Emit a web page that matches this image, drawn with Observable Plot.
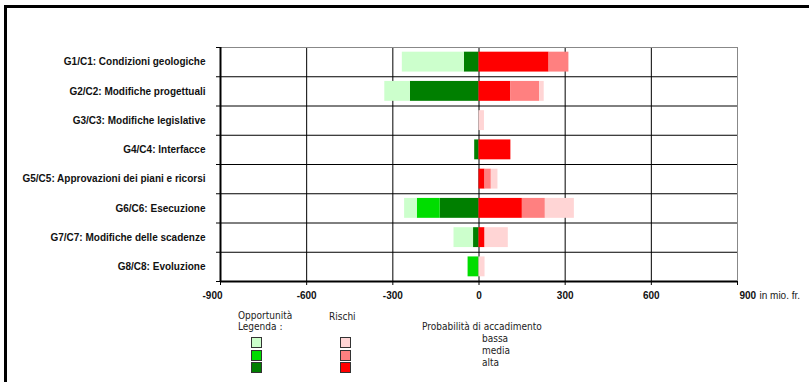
<!DOCTYPE html>
<html>
<head>
<meta charset="utf-8">
<script src="https://cdn.jsdelivr.net/npm/d3@7"></script>
<script src="https://cdn.jsdelivr.net/npm/@observablehq/plot@0.6"></script>
<style>
  html, body { margin: 0; padding: 0; background: #fff; }
  #wrap { position: relative; width: 809px; height: 382px; overflow: hidden; background: #fff; }
  #frame { position: absolute; left: 4px; top: 5px; width: 805px; height: 380px; border-top: 3px solid #000; border-left: 3px solid #000; box-sizing: border-box; }
  #chart { position: absolute; left: 0; top: 0; }
  .lg { position: absolute; font-family: "Liberation Sans Narrow", "DejaVu Sans Condensed", "Liberation Sans", sans-serif; font-size: 10px; line-height: 10px; color: #222; white-space: nowrap; }
  .sq { position: absolute; width: 9px; height: 9px; border: 1.5px solid #333; }
</style>
</head>
<body>
<div id="wrap">
  <div id="frame"></div>
  <div id="chart"></div>
  <div id="legend"></div>
</div>
<script>
// ---- data ----
const categories = [
  "G1/C1: Condizioni geologiche",
  "G2/C2: Modifiche progettuali",
  "G3/C3: Modifiche legislative",
  "G4/C4: Interfacce",
  "G5/C5: Approvazioni dei piani e ricorsi",
  "G6/C6: Esecuzione",
  "G7/C7: Modifiche delle scadenze",
  "G8/C8: Evoluzione"
];
// Opportunità (negative side), in mio. fr.
const oppAlta  = [51, 239, 0, 15, 0, 135, 19, 0];
const oppMedia = [0, 0, 0, 0, 0, 80, 0, 38];
const oppBassa = [216, 89, 0, 0, 0, 44, 68, 0];
// Rischi (positive side), in mio. fr.
const riskAlta  = [244, 110, 0, 111, 21, 151, 21, 0];
const riskMedia = [69, 101, 0, 0, 22, 80, 0, 0];
const riskBassa = [0, 16, 19, 0, 23, 101, 81, 21];

const xTicks = [-900, -600, -300, 0, 300, 600, 900];
const unitLabel = "in mio. fr.";
const levels = ["bassa", "media", "alta"];
const oppColors = {alta: "#007f00", media: "#00dd00", bassa: "#ccffcc"};
const riskColors = {alta: "#ff0000", media: "#ff8080", bassa: "#ffd5d5"};

// ---- build stacked segments (alta nearest zero, then media, then bassa) ----
const segs = [];
categories.forEach((c, i) => {
  let neg = 0, pos = 0;
  [["alta", oppAlta], ["media", oppMedia], ["bassa", oppBassa]].forEach(([lvl, arr]) => {
    const v = arr[i];
    if (v > 0) { segs.push({i, x1: -neg, x2: -(neg + v), fill: oppColors[lvl]}); neg += v; }
  });
  [["alta", riskAlta], ["media", riskMedia], ["bassa", riskBassa]].forEach(([lvl, arr]) => {
    const v = arr[i];
    if (v > 0) { segs.push({i, x1: pos, x2: pos + v, fill: riskColors[lvl]}); pos += v; }
  });
});

const n = categories.length;
const rows = d3.range(n);
const bounds = d3.range(n + 1);
const fmt = d => d < 0 ? "-" + Math.abs(d) : String(d);
const inner = xTicks.filter(d => d > xTicks[0] && d < xTicks[xTicks.length - 1]);

const chart = Plot.plot({
  width: 809,
  height: 310,
  marginLeft: 220,
  marginRight: 72,
  marginTop: 47,
  marginBottom: 29,
  style: {fontFamily: "'Liberation Sans', Arial, sans-serif", fontSize: "10px", color: "#000", background: "transparent"},
  x: {domain: [xTicks[0], xTicks[xTicks.length - 1]], axis: null},
  y: {domain: [0, n], reverse: true, axis: null},
  color: {type: "identity"},
  marks: [
    // grid
    Plot.ruleX(inner, {x: d => d, y1: 0, y2: n, stroke: "#000", strokeWidth: 1}),
    Plot.ruleY(bounds.slice(1, n), {y: d => d, x1: xTicks[0], x2: xTicks[xTicks.length - 1], stroke: "#000", strokeWidth: 1}),
    Plot.ruleY([0], {x1: xTicks[0], x2: xTicks[xTicks.length - 1], stroke: "#888", strokeWidth: 1}),
    Plot.ruleX([xTicks[xTicks.length - 1]], {y1: 0, y2: n, stroke: "#888", strokeWidth: 1}),
    // bars
    Plot.rectX(segs, {x1: "x1", x2: "x2", y1: d => d.i + 0.16, y2: d => d.i + 0.84, fill: "fill"}),
    // axis lines
    Plot.ruleX([xTicks[0]], {y1: 0, y2: n, stroke: "#000", strokeWidth: 2}),
    Plot.ruleY([n], {x1: xTicks[0], x2: xTicks[xTicks.length - 1], stroke: "#000", strokeWidth: 2}),
    // tick marks
    Plot.axisX({ticks: xTicks, tickSize: 4, tickFormat: () => "", anchor: "bottom", stroke: "#000"}),
    Plot.axisY({ticks: bounds, tickSize: 4, tickFormat: () => "", anchor: "left", stroke: "#000"}),
    // category labels
    Plot.axisY({ticks: rows.map(i => i + 0.5), tickSize: 0, tickPadding: 15, anchor: "left",
      tickFormat: d => categories[Math.floor(d)], fontWeight: "bold", fontSize: 10, fill: "#111"}),
    // x tick labels
    Plot.text(inner, {x: d => d, frameAnchor: "bottom", dy: 17, text: fmt, fontWeight: "bold", fontSize: 10, fill: "#111"}),
    Plot.text([xTicks[0]], {x: d => d, frameAnchor: "bottom", dy: 17, dx: -8, text: fmt, fontWeight: "bold", fontSize: 10, fill: "#111"}),
    Plot.text([xTicks[xTicks.length - 1]], {x: d => d, frameAnchor: "bottom", dy: 17, dx: 2, textAnchor: "start", text: fmt, fontWeight: "bold", fontSize: 10, fill: "#111"}),
    Plot.text([xTicks[xTicks.length - 1]], {x: d => d, frameAnchor: "bottom", dy: 17, dx: 22, textAnchor: "start", text: () => unitLabel, fontSize: 10, fill: "#222"})
  ]
});
document.getElementById("chart").appendChild(chart);

// ---- legend (HTML below the plot) ----
const lg = document.getElementById("legend");
function addText(txt, left, top) {
  const d = document.createElement("div");
  d.className = "lg"; d.textContent = txt;
  d.style.left = left + "px"; d.style.top = top + "px";
  lg.appendChild(d);
}
function addSq(color, left, top) {
  const d = document.createElement("div");
  d.className = "sq"; d.style.background = color;
  d.style.left = left + "px"; d.style.top = top + "px";
  lg.appendChild(d);
}
addText("Opportunità", 238, 311);
addText("Legenda  :", 238, 322);
addText("Rischi", 329, 312);
addText("Probabilità di accadimento", 422, 322);
const sqTops = [337, 349.5, 362];
const textTops = [334, 346, 358];
levels.forEach((lvl, k) => {
  addSq(oppColors[lvl], 251, sqTops[k]);
  addSq(riskColors[lvl], 340, sqTops[k]);
  addText(lvl, 482, textTops[k]);
});
</script>
</body>
</html>
